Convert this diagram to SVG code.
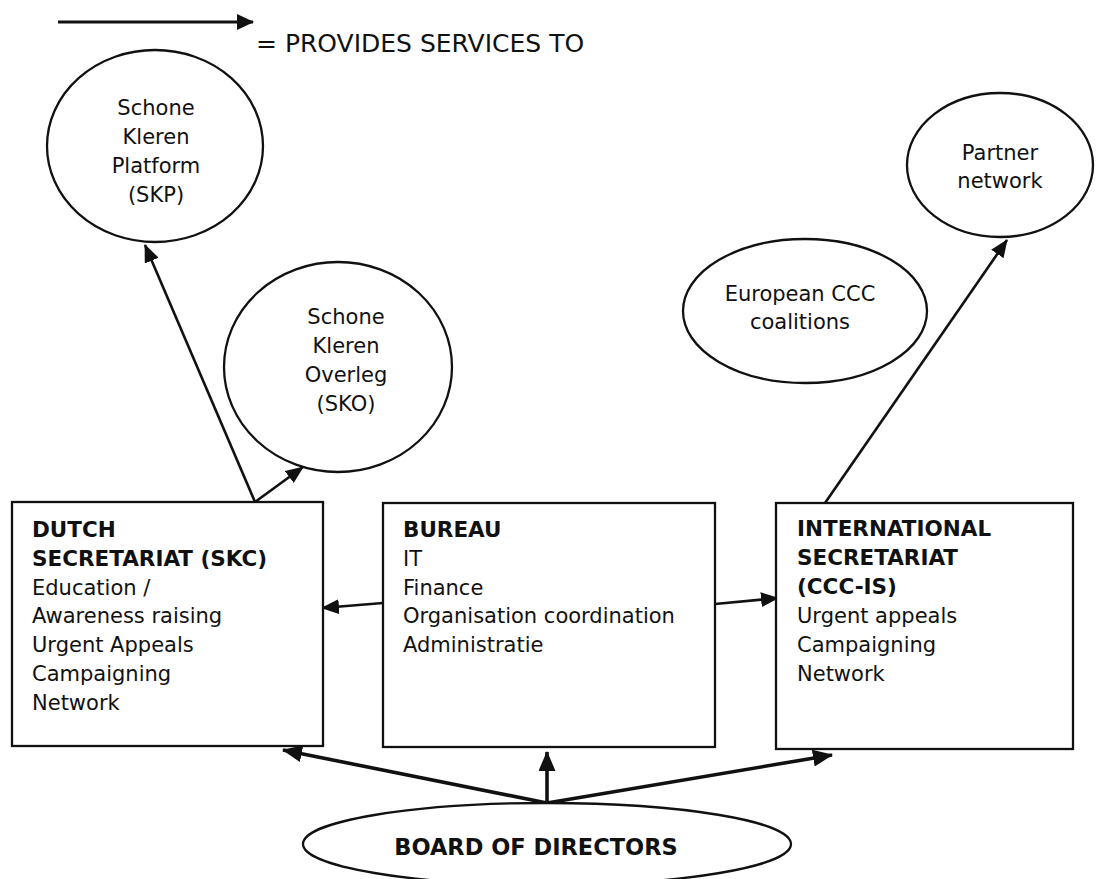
<svg xmlns="http://www.w3.org/2000/svg" width="1097" height="879" viewBox="0 0 1097 879">
  <style>
    text { font-family: "DejaVu Sans", "Liberation Sans", sans-serif; fill: #111; }
    .reg { font-size: 21px; }
    .bold { font-size: 21.5px; font-weight: bold; }
    .mid { text-anchor: middle; }
    .shape { fill: #fff; stroke: #111; stroke-width: 2.3; }
    .link { fill: none; stroke: #111; stroke-width: 2.6; marker-end: url(#head); }
    .board-link { fill: none; stroke: #111; stroke-width: 3.6; marker-end: url(#bighead); }
  </style>
  <defs>
    <marker id="head" viewBox="0 0 18 15" refX="17" refY="7.5" markerWidth="18" markerHeight="15" markerUnits="userSpaceOnUse" orient="auto">
      <path d="M0,0 L18,7.5 L0,15 Z" fill="#111"/>
    </marker>
    <marker id="bighead" viewBox="0 0 20 17" refX="19" refY="8.5" markerWidth="20" markerHeight="17" markerUnits="userSpaceOnUse" orient="auto">
      <path d="M0,0 L20,8.5 L0,17 Z" fill="#111"/>
    </marker>
    <marker id="legendhead" viewBox="0 0 17 16" refX="16" refY="8" markerWidth="17" markerHeight="16" markerUnits="userSpaceOnUse" orient="auto">
      <path d="M0,0 L17,8 L0,16 Z" fill="#111"/>
    </marker>
  </defs>

  <rect width="1097" height="879" fill="#fff"/>

  <!-- legend -->
  <g id="legend">
    <line x1="58" y1="22" x2="253" y2="22" stroke="#111" stroke-width="3.2" marker-end="url(#legendhead)"/>
    <text x="256" y="52" style="font-size:25px">= PROVIDES SERVICES TO</text>
  </g>

  <!-- connectors -->
  <g id="connectors">
    <line class="link" x1="255" y1="502" x2="145" y2="245"/>
    <line class="link" x1="255" y1="502" x2="303" y2="467"/>
    <line class="link" x1="383" y1="603" x2="322" y2="608"/>
    <line class="link" x1="715" y1="604" x2="778" y2="598"/>
    <line class="link" x1="825" y1="503" x2="1007" y2="240"/>
    <line class="board-link" x1="547" y1="803" x2="283" y2="750"/>
    <line class="board-link" x1="547" y1="803" x2="547" y2="752"/>
    <line class="board-link" x1="547" y1="803" x2="832" y2="755"/>
  </g>

  <g id="skp">
    <ellipse class="shape" cx="155" cy="146" rx="108" ry="96"/>
    <text class="reg mid" x="156" y="115">Schone</text>
    <text class="reg mid" x="156" y="144">Kleren</text>
    <text class="reg mid" x="156" y="173">Platform</text>
    <text class="reg mid" x="156" y="202">(SKP)</text>
  </g>

  <g id="sko">
    <ellipse class="shape" cx="338" cy="367" rx="114" ry="105"/>
    <text class="reg mid" x="346" y="324">Schone</text>
    <text class="reg mid" x="346" y="353">Kleren</text>
    <text class="reg mid" x="346" y="382">Overleg</text>
    <text class="reg mid" x="346" y="411">(SKO)</text>
  </g>

  <g id="partner">
    <ellipse class="shape" cx="1000" cy="165" rx="93" ry="72"/>
    <text class="reg mid" x="1000" y="160">Partner</text>
    <text class="reg mid" x="1000" y="188">network</text>
  </g>

  <g id="european">
    <ellipse class="shape" cx="805" cy="311" rx="122" ry="72"/>
    <text class="reg mid" x="800" y="301">European CCC</text>
    <text class="reg mid" x="800" y="329">coalitions</text>
  </g>

  <g id="dutch">
    <rect class="shape" x="12" y="502" width="311" height="244"/>
    <text class="bold" x="32" y="537">DUTCH</text>
    <text class="bold" x="32" y="566">SECRETARIAT (SKC)</text>
    <text class="reg" x="32" y="595">Education /</text>
    <text class="reg" x="32" y="623">Awareness raising</text>
    <text class="reg" x="32" y="652">Urgent Appeals</text>
    <text class="reg" x="32" y="681">Campaigning</text>
    <text class="reg" x="32" y="710">Network</text>
  </g>

  <g id="bureau">
    <rect class="shape" x="383" y="503" width="332" height="244"/>
    <text class="bold" x="403" y="537">BUREAU</text>
    <text class="reg" x="403" y="566">IT</text>
    <text class="reg" x="403" y="595">Finance</text>
    <text class="reg" x="403" y="623">Organisation coordination</text>
    <text class="reg" x="403" y="652">Administratie</text>
  </g>

  <g id="international">
    <rect class="shape" x="776" y="503" width="297" height="246"/>
    <text class="bold" x="797" y="536">INTERNATIONAL</text>
    <text class="bold" x="797" y="565">SECRETARIAT</text>
    <text class="bold" x="797" y="594">(CCC-IS)</text>
    <text class="reg" x="797" y="623">Urgent appeals</text>
    <text class="reg" x="797" y="652">Campaigning</text>
    <text class="reg" x="797" y="681">Network</text>
  </g>

  <g id="board">
    <ellipse class="shape" cx="547" cy="844" rx="244" ry="41"/>
    <text class="mid" x="536" y="855" style="font-size:22.5px;font-weight:bold">BOARD OF DIRECTORS</text>
  </g>
</svg>
